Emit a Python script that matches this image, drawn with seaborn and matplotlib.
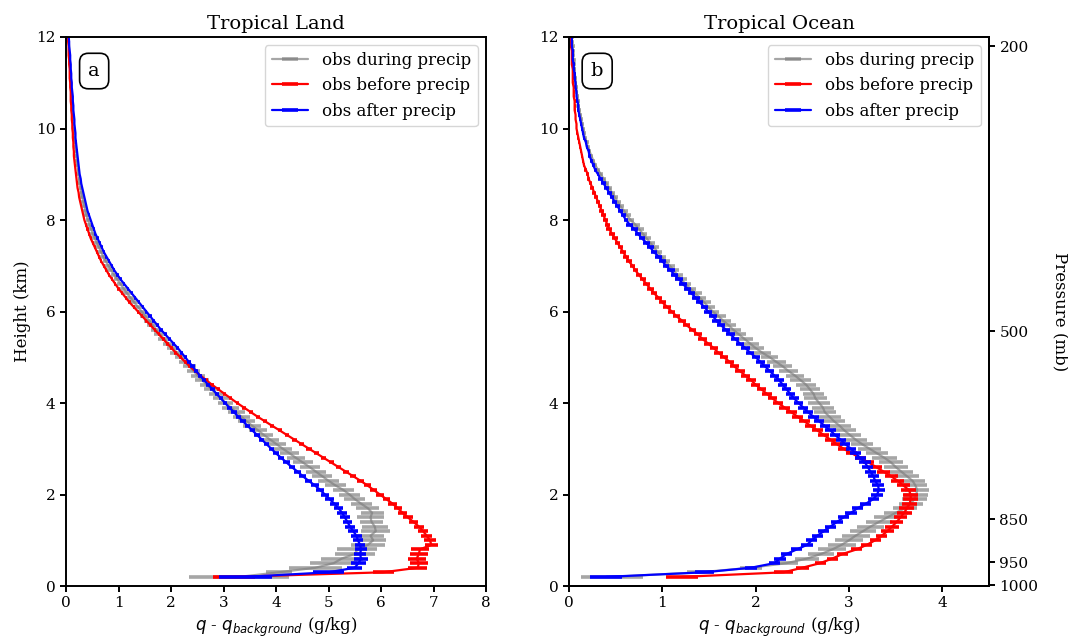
import numpy as np
import pandas as pd
import matplotlib
matplotlib.use("Agg")
import matplotlib.pyplot as plt
import seaborn as sns

# ---------------------------------------------------------------------------
# Composite moisture anomaly profiles, q - q_background (g/kg), on 0.1 km levels
# from 0.2 km to 12.0 km.  Rows below hold 0.2-0.9 km, then one row per km.
# ---------------------------------------------------------------------------
heights = np.round(np.arange(0.2, 12.05, 0.1), 1)

# Tropical land
land_during = [
    3.30, 4.05, 4.75, 5.10, 5.25, 5.50, 5.55, 5.75,
    5.85, 5.80, 5.90, 5.88, 5.82, 5.80, 5.83, 5.75, 5.62, 5.50,
    5.40, 5.28, 5.13, 5.00, 4.88, 4.76, 4.64, 4.51, 4.38, 4.26,
    4.13, 4.01, 3.89, 3.77, 3.66, 3.55, 3.44, 3.34, 3.24, 3.14,
    3.04, 2.95, 2.86, 2.77, 2.68, 2.59, 2.51, 2.43, 2.35, 2.27,
    2.19, 2.11, 2.03, 1.95, 1.87, 1.79, 1.72, 1.65, 1.58, 1.51,
    1.44, 1.37, 1.30, 1.23, 1.16, 1.10, 1.04, 0.98, 0.92, 0.86,
    0.81, 0.76, 0.71, 0.67, 0.63, 0.59, 0.55, 0.51, 0.48, 0.45,
    0.42, 0.39, 0.37, 0.35, 0.33, 0.31, 0.29, 0.28, 0.26, 0.25,
    0.24, 0.23, 0.22, 0.21, 0.20, 0.19, 0.18, 0.17, 0.16, 0.16,
    0.15, 0.14, 0.14, 0.13, 0.13, 0.12, 0.12, 0.11, 0.11, 0.10,
    0.10, 0.09, 0.09, 0.08, 0.08, 0.07, 0.07, 0.06, 0.06, 0.05,
    0.05,
]
land_during_err = [
    0.95, 0.25, 0.50, 0.45, 0.40, 0.38, 0.38, 0.32,
    0.25, 0.25, 0.28, 0.25, 0.22, 0.25, 0.22, 0.22, 0.20, 0.20,
    0.20, 0.20, 0.20, 0.20, 0.19, 0.19, 0.19, 0.19, 0.18, 0.18,
    0.18, 0.18, 0.17, 0.17, 0.17, 0.17, 0.16, 0.16, 0.16, 0.16,
    0.15, 0.15, 0.14, 0.14, 0.13, 0.13, 0.13, 0.12, 0.12, 0.12,
    0.12, 0.12, 0.11, 0.11, 0.11, 0.11, 0.10, 0.10, 0.10, 0.10,
    0.09, 0.09, 0.09, 0.08, 0.08, 0.08, 0.07, 0.07, 0.07, 0.07,
    0.06, 0.06, 0.06, 0.06, 0.05, 0.05, 0.05, 0.05, 0.05, 0.05,
    0.04, 0.04, 0.04, 0.04, 0.04, 0.04, 0.03, 0.03, 0.03, 0.03,
    0.03, 0.03, 0.03, 0.03, 0.02, 0.02, 0.02, 0.02, 0.02, 0.02,
    0.02, 0.02, 0.02, 0.02, 0.02, 0.02, 0.02, 0.02, 0.02, 0.02,
    0.02, 0.02, 0.02, 0.02, 0.02, 0.02, 0.02, 0.02, 0.02, 0.02,
    0.02,
]
land_before = [
    3.20, 6.04, 6.70, 6.72, 6.68, 6.72, 6.74, 6.96,
    6.93, 6.87, 6.80, 6.72, 6.62, 6.51, 6.41, 6.32, 6.22, 6.10,
    5.98, 5.86, 5.74, 5.61, 5.47, 5.33, 5.19, 5.05, 4.91, 4.77,
    4.63, 4.49, 4.35, 4.21, 4.07, 3.93, 3.79, 3.65, 3.52, 3.39,
    3.26, 3.14, 3.02, 2.90, 2.78, 2.67, 2.56, 2.46, 2.36, 2.27,
    2.18, 2.09, 2.01, 1.93, 1.85, 1.77, 1.69, 1.61, 1.53, 1.45,
    1.37, 1.29, 1.21, 1.14, 1.07, 1.00, 0.94, 0.88, 0.82, 0.77,
    0.72, 0.67, 0.63, 0.59, 0.55, 0.51, 0.47, 0.44, 0.41, 0.38,
    0.35, 0.33, 0.31, 0.29, 0.27, 0.25, 0.24, 0.22, 0.21, 0.20,
    0.19, 0.18, 0.17, 0.16, 0.15, 0.15, 0.14, 0.14, 0.13, 0.13,
    0.12, 0.12, 0.11, 0.11, 0.10, 0.10, 0.09, 0.09, 0.09, 0.08,
    0.08, 0.07, 0.07, 0.07, 0.06, 0.06, 0.05, 0.05, 0.05, 0.04,
    0.04,
]
land_before_err = [
    0.40, 0.20, 0.18, 0.17, 0.17, 0.17, 0.17, 0.12,
    0.11, 0.10, 0.10, 0.09, 0.09, 0.09, 0.08, 0.08, 0.08, 0.07,
    0.07, 0.07, 0.06, 0.06, 0.06, 0.06, 0.05, 0.05, 0.05, 0.05,
    0.05, 0.05, 0.04, 0.04, 0.04, 0.04, 0.04, 0.04, 0.04, 0.03,
    0.03, 0.03, 0.03, 0.03, 0.03, 0.03, 0.03, 0.03, 0.03, 0.03,
    0.03, 0.03, 0.03, 0.03, 0.03, 0.02, 0.02, 0.02, 0.02, 0.02,
    0.02, 0.02, 0.02, 0.02, 0.02, 0.02, 0.02, 0.02, 0.02, 0.02,
    0.02, 0.02, 0.02, 0.02, 0.02, 0.02, 0.02, 0.02, 0.02, 0.02,
    0.01, 0.01, 0.01, 0.01, 0.01, 0.01, 0.01, 0.01, 0.01, 0.01,
    0.01, 0.01, 0.01, 0.01, 0.01, 0.01, 0.01, 0.01, 0.01, 0.01,
    0.01, 0.01, 0.01, 0.01, 0.01, 0.01, 0.01, 0.01, 0.01, 0.01,
    0.01, 0.01, 0.01, 0.01, 0.01, 0.01, 0.01, 0.01, 0.01, 0.01,
    0.01,
]
land_after = [
    3.42, 5.00, 5.50, 5.57, 5.62, 5.60, 5.62, 5.60,
    5.56, 5.53, 5.47, 5.41, 5.36, 5.31, 5.26, 5.19, 5.11, 5.02,
    4.93, 4.84, 4.74, 4.62, 4.51, 4.41, 4.30, 4.20, 4.10, 4.00,
    3.91, 3.82, 3.73, 3.64, 3.55, 3.46, 3.37, 3.28, 3.20, 3.11,
    3.03, 2.95, 2.87, 2.79, 2.71, 2.63, 2.55, 2.48, 2.41, 2.34,
    2.27, 2.20, 2.13, 2.05, 1.97, 1.89, 1.81, 1.74, 1.67, 1.60,
    1.53, 1.46, 1.39, 1.32, 1.25, 1.18, 1.11, 1.04, 0.98, 0.92,
    0.87, 0.82, 0.77, 0.72, 0.68, 0.64, 0.60, 0.56, 0.53, 0.50,
    0.47, 0.44, 0.41, 0.39, 0.37, 0.35, 0.33, 0.31, 0.29, 0.28,
    0.26, 0.25, 0.24, 0.23, 0.22, 0.21, 0.20, 0.19, 0.18, 0.18,
    0.17, 0.16, 0.16, 0.15, 0.14, 0.14, 0.13, 0.13, 0.12, 0.11,
    0.11, 0.10, 0.10, 0.09, 0.09, 0.08, 0.08, 0.07, 0.06, 0.06,
    0.05,
]
land_after_err = [
    0.50, 0.30, 0.14, 0.14, 0.14, 0.12, 0.12, 0.10,
    0.10, 0.10, 0.09, 0.09, 0.09, 0.09, 0.09, 0.08, 0.08, 0.08,
    0.08, 0.07, 0.07, 0.07, 0.07, 0.06, 0.06, 0.06, 0.06, 0.06,
    0.05, 0.05, 0.05, 0.05, 0.05, 0.05, 0.05, 0.05, 0.05, 0.05,
    0.04, 0.04, 0.04, 0.04, 0.04, 0.04, 0.04, 0.04, 0.04, 0.04,
    0.03, 0.03, 0.03, 0.03, 0.03, 0.03, 0.03, 0.03, 0.03, 0.03,
    0.02, 0.02, 0.02, 0.02, 0.02, 0.02, 0.02, 0.02, 0.02, 0.02,
    0.02, 0.02, 0.02, 0.02, 0.02, 0.02, 0.02, 0.02, 0.02, 0.02,
    0.01, 0.01, 0.01, 0.01, 0.01, 0.01, 0.01, 0.01, 0.01, 0.01,
    0.01, 0.01, 0.01, 0.01, 0.01, 0.01, 0.01, 0.01, 0.01, 0.01,
    0.01, 0.01, 0.01, 0.01, 0.01, 0.01, 0.01, 0.01, 0.01, 0.01,
    0.01, 0.01, 0.01, 0.01, 0.01, 0.01, 0.01, 0.01, 0.01, 0.01,
    0.01,
]

# Tropical ocean
ocean_during = [
    0.46, 1.40, 1.95, 2.33, 2.55, 2.70, 2.82, 2.92,
    3.00, 3.07, 3.15, 3.23, 3.32, 3.41, 3.50, 3.60, 3.66, 3.70,
    3.72, 3.73, 3.71, 3.68, 3.62, 3.56, 3.50, 3.45, 3.38, 3.30,
    3.22, 3.14, 3.07, 3.01, 2.95, 2.90, 2.84, 2.79, 2.74, 2.72,
    2.68, 2.64, 2.62, 2.58, 2.54, 2.48, 2.42, 2.35, 2.29, 2.22,
    2.15, 2.07, 2.00, 1.94, 1.88, 1.82, 1.76, 1.71, 1.65, 1.60,
    1.54, 1.49, 1.45, 1.40, 1.35, 1.30, 1.25, 1.20, 1.16, 1.12,
    1.08, 1.03, 0.99, 0.95, 0.91, 0.87, 0.83, 0.79, 0.75, 0.71,
    0.66, 0.62, 0.59, 0.55, 0.52, 0.49, 0.46, 0.43, 0.40, 0.37,
    0.34, 0.31, 0.28, 0.26, 0.24, 0.22, 0.20, 0.19, 0.17, 0.16,
    0.15, 0.14, 0.13, 0.12, 0.11, 0.10, 0.10, 0.09, 0.08, 0.08,
    0.07, 0.07, 0.06, 0.06, 0.05, 0.05, 0.04, 0.04, 0.04, 0.03,
    0.03,
]
ocean_during_err = [
    0.33, 0.14, 0.12, 0.12, 0.13, 0.14, 0.15, 0.15,
    0.15, 0.15, 0.14, 0.14, 0.14, 0.14, 0.13, 0.13, 0.13, 0.13,
    0.13, 0.13, 0.13, 0.13, 0.13, 0.13, 0.13, 0.13, 0.13, 0.12,
    0.12, 0.12, 0.12, 0.12, 0.12, 0.12, 0.12, 0.12, 0.12, 0.12,
    0.12, 0.12, 0.11, 0.11, 0.11, 0.11, 0.10, 0.10, 0.10, 0.10,
    0.09, 0.09, 0.09, 0.09, 0.09, 0.08, 0.08, 0.08, 0.08, 0.08,
    0.07, 0.07, 0.07, 0.07, 0.07, 0.06, 0.06, 0.06, 0.06, 0.06,
    0.05, 0.05, 0.05, 0.05, 0.05, 0.05, 0.05, 0.05, 0.05, 0.05,
    0.04, 0.04, 0.04, 0.04, 0.04, 0.03, 0.03, 0.03, 0.03, 0.03,
    0.02, 0.02, 0.02, 0.02, 0.02, 0.02, 0.02, 0.02, 0.02, 0.02,
    0.02, 0.02, 0.02, 0.02, 0.02, 0.02, 0.02, 0.02, 0.02, 0.02,
    0.02, 0.02, 0.02, 0.02, 0.02, 0.02, 0.02, 0.02, 0.02, 0.02,
    0.02,
]
ocean_before = [
    1.21, 2.30, 2.50, 2.69, 2.82, 2.93, 3.08, 3.19,
    3.28, 3.35, 3.41, 3.46, 3.51, 3.55, 3.59, 3.62, 3.65, 3.66,
    3.66, 3.64, 3.58, 3.52, 3.45, 3.37, 3.29, 3.21, 3.12, 3.03,
    2.94, 2.87, 2.80, 2.73, 2.66, 2.59, 2.52, 2.45, 2.38, 2.31,
    2.24, 2.18, 2.12, 2.06, 2.00, 1.95, 1.89, 1.83, 1.77, 1.72,
    1.66, 1.60, 1.55, 1.49, 1.43, 1.38, 1.32, 1.26, 1.21, 1.15,
    1.10, 1.05, 1.00, 0.96, 0.91, 0.87, 0.83, 0.79, 0.75, 0.71,
    0.68, 0.64, 0.61, 0.58, 0.55, 0.52, 0.49, 0.46, 0.43, 0.41,
    0.39, 0.37, 0.35, 0.33, 0.31, 0.29, 0.27, 0.25, 0.23, 0.21,
    0.20, 0.18, 0.16, 0.15, 0.14, 0.13, 0.12, 0.11, 0.10, 0.09,
    0.08, 0.08, 0.07, 0.07, 0.06, 0.06, 0.06, 0.05, 0.05, 0.05,
    0.04, 0.04, 0.04, 0.04, 0.03, 0.03, 0.03, 0.03, 0.02, 0.02,
    0.02,
]
ocean_before_err = [
    0.17, 0.10, 0.07, 0.06, 0.06, 0.06, 0.06, 0.06,
    0.06, 0.06, 0.07, 0.07, 0.07, 0.07, 0.08, 0.08, 0.08, 0.08,
    0.08, 0.08, 0.07, 0.07, 0.07, 0.07, 0.06, 0.06, 0.06, 0.06,
    0.06, 0.06, 0.06, 0.06, 0.06, 0.06, 0.06, 0.06, 0.06, 0.06,
    0.05, 0.05, 0.05, 0.05, 0.05, 0.05, 0.05, 0.05, 0.05, 0.05,
    0.045, 0.045, 0.045, 0.045, 0.045, 0.04, 0.04, 0.04, 0.04, 0.04,
    0.04, 0.04, 0.04, 0.035, 0.035, 0.035, 0.035, 0.035, 0.03, 0.03,
    0.03, 0.03, 0.03, 0.03, 0.03, 0.03, 0.03, 0.03, 0.03, 0.03,
    0.025, 0.025, 0.025, 0.025, 0.025, 0.02, 0.02, 0.02, 0.02, 0.02,
    0.015, 0.015, 0.015, 0.015, 0.015, 0.01, 0.01, 0.01, 0.01, 0.01,
    0.01, 0.01, 0.01, 0.01, 0.01, 0.01, 0.01, 0.01, 0.01, 0.01,
    0.01, 0.01, 0.01, 0.01, 0.01, 0.01, 0.01, 0.01, 0.01, 0.01,
    0.01,
]
ocean_after = [
    0.40, 1.45, 1.95, 2.20, 2.26, 2.33, 2.44, 2.55,
    2.60, 2.66, 2.73, 2.80, 2.87, 2.94, 3.02, 3.09, 3.18, 3.26,
    3.30, 3.32, 3.31, 3.28, 3.26, 3.23, 3.20, 3.17, 3.12, 3.07,
    3.02, 2.96, 2.91, 2.85, 2.80, 2.74, 2.68, 2.62, 2.56, 2.51,
    2.46, 2.41, 2.37, 2.33, 2.29, 2.25, 2.20, 2.15, 2.10, 2.05,
    2.00, 1.94, 1.89, 1.83, 1.78, 1.73, 1.68, 1.63, 1.58, 1.54,
    1.49, 1.45, 1.40, 1.36, 1.31, 1.27, 1.22, 1.18, 1.13, 1.09,
    1.04, 1.00, 0.96, 0.91, 0.87, 0.83, 0.78, 0.74, 0.70, 0.65,
    0.61, 0.58, 0.55, 0.52, 0.49, 0.46, 0.43, 0.40, 0.37, 0.34,
    0.31, 0.28, 0.26, 0.24, 0.22, 0.21, 0.19, 0.18, 0.16, 0.15,
    0.14, 0.13, 0.12, 0.11, 0.10, 0.10, 0.09, 0.08, 0.08, 0.07,
    0.07, 0.06, 0.06, 0.05, 0.05, 0.04, 0.04, 0.04, 0.03, 0.03,
    0.03,
]
ocean_after_err = [
    0.17, 0.10, 0.06, 0.06, 0.06, 0.06, 0.06, 0.06,
    0.06, 0.06, 0.06, 0.06, 0.06, 0.06, 0.06, 0.06, 0.06, 0.06,
    0.06, 0.06, 0.06, 0.06, 0.06, 0.06, 0.06, 0.06, 0.06, 0.06,
    0.055, 0.055, 0.055, 0.055, 0.055, 0.055, 0.055, 0.055, 0.055, 0.055,
    0.05, 0.05, 0.05, 0.05, 0.05, 0.05, 0.05, 0.05, 0.05, 0.05,
    0.045, 0.045, 0.045, 0.045, 0.045, 0.045, 0.045, 0.045, 0.045, 0.045,
    0.04, 0.04, 0.04, 0.04, 0.04, 0.04, 0.04, 0.04, 0.04, 0.04,
    0.035, 0.035, 0.035, 0.035, 0.035, 0.035, 0.035, 0.035, 0.035, 0.035,
    0.025, 0.025, 0.025, 0.025, 0.025, 0.025, 0.025, 0.025, 0.025, 0.025,
    0.015, 0.015, 0.015, 0.015, 0.015, 0.01, 0.01, 0.01, 0.01, 0.01,
    0.01, 0.01, 0.01, 0.01, 0.01, 0.01, 0.01, 0.01, 0.01, 0.01,
    0.01, 0.01, 0.01, 0.01, 0.01, 0.01, 0.01, 0.01, 0.01, 0.01,
    0.01,
]

series_labels = ["obs during precip", "obs before precip", "obs after precip"]
panel_titles = ["Tropical Land", "Tropical Ocean"]
panel_tags = ["a", "b"]

# Right-hand pressure axis of the ocean panel: labels and their heights (km)
pressure_labels = ["200", "500", "850", "950", "1000"]
pressure_tick_heights = [11.8, 5.57, 1.46, 0.52, 0.02]

panels = {
    "Tropical Land": [
        (land_during, land_during_err),
        (land_before, land_before_err),
        (land_after, land_after_err),
    ],
    "Tropical Ocean": [
        (ocean_during, ocean_during_err),
        (ocean_before, ocean_before_err),
        (ocean_after, ocean_after_err),
    ],
}

for group in panels.values():
    for vals, errs in group:
        assert len(vals) == len(heights) and len(errs) == len(heights)

# ---------------------------------------------------------------------------
sns.set_theme(context="notebook", style="ticks")
plt.rcParams.update({
    "font.family": ["DejaVu Serif"],
    "axes.edgecolor": "black",
    "axes.linewidth": 1.4,
    "xtick.color": "black",
    "ytick.color": "black",
    "xtick.major.width": 1.4,
    "ytick.major.width": 1.4,
    "xtick.major.size": 4,
    "ytick.major.size": 4,
    "text.color": "black",
    "axes.labelcolor": "black",
    "xtick.labelsize": 11,
    "ytick.labelsize": 11,
})

styles = [
    dict(color="gray", alpha=0.7),
    dict(color="red", alpha=1.0),
    dict(color="blue", alpha=1.0),
]

fig = plt.figure(figsize=(10.68, 6.39), dpi=100)
ax_land = fig.add_axes([0.0618, 0.0829, 0.3933, 0.8592])
ax_ocean = fig.add_axes([0.5328, 0.0829, 0.3933, 0.8592])
xlims = {"Tropical Land": (0, 8), "Tropical Ocean": (0, 4.5)}
xticks = {"Tropical Land": np.arange(0, 9, 1), "Tropical Ocean": np.arange(0, 5, 1)}

for ax, title, tag in zip([ax_land, ax_ocean], panel_titles, panel_tags):
    handles = []
    for (vals, errs), label, st in zip(panels[title], series_labels, styles):
        df = pd.DataFrame({"q": vals, "z": heights})
        eb = ax.errorbar(df["q"], df["z"], xerr=errs, fmt="none",
                         ecolor=st["color"], alpha=st["alpha"],
                         elinewidth=2.6, capsize=0)
        sns.lineplot(data=df, x="q", y="z", orient="y", sort=False,
                     estimator=None, color=st["color"], alpha=st["alpha"],
                     linewidth=1.6, ax=ax, legend=False)
        handles.append((ax.lines[-1], eb))
    ax.set_xlim(*xlims[title])
    ax.set_ylim(0, 12)
    ax.set_xticks(xticks[title])
    ax.set_yticks(np.arange(0, 13, 2))
    ax.set_title(title, fontsize=14)
    ax.set_xlabel(r"$q$ - $q_{background}$ (g/kg)", fontsize=12)
    ax.set_ylabel("")
    ax.legend(handles, series_labels, loc="upper right", fontsize=12,
              handlelength=2.2, framealpha=0.8)
    ax.text(0.067, 0.938, tag, transform=ax.transAxes, ha="center",
            va="center", fontsize=14,
            bbox=dict(boxstyle="round,pad=0.45", fc="white", ec="black", lw=1.2))

ax_land.set_ylabel("Height (km)", fontsize=12)

ax_p = ax_ocean.twinx()
ax_p.set_ylim(0, 12)
ax_p.set_yticks(pressure_tick_heights)
ax_p.set_yticklabels(pressure_labels)
ax_p.set_ylabel("Pressure (mb)", rotation=270, labelpad=22, fontsize=12)
for spine in ax_p.spines.values():
    spine.set_linewidth(1.4)

fig.savefig("out.png", dpi=100)
